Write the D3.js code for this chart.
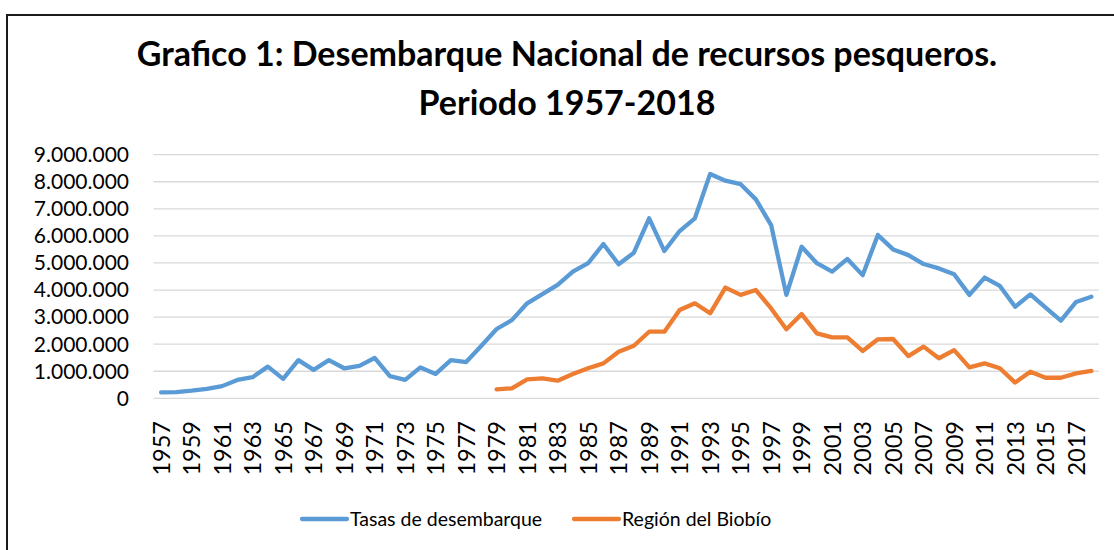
<!DOCTYPE html>
<html>
<head>
<meta charset="utf-8">
<script src="https://cdn.jsdelivr.net/npm/d3@7"></script>
<style>
    body { margin: 0; background: #fff; }
    svg { display: block; font-family: Lato, "Open Sans", sans-serif; }
</style>
</head>
<body>
<script>
// years on the x axis
var years = d3.range(1957, 2019);

// national landings (tonnes), one per year 1957-2018
var tasas = [
    220000, 230000, 280000, 350000, 450000, 680000, 780000, 1170000, 720000, 1410000,
    1050000, 1410000, 1110000, 1200000, 1490000, 820000, 680000, 1140000, 900000, 1410000,
    1340000, 1940000, 2560000, 2890000, 3510000, 3850000, 4190000, 4680000, 4990000, 5700000,
    4950000, 5380000, 6650000, 5440000, 6180000, 6650000, 8290000, 8040000, 7910000, 7350000,
    6400000, 3820000, 5600000, 4990000, 4680000, 5150000, 4550000, 6030000, 5500000, 5290000,
    4960000, 4800000, 4580000, 3820000, 4460000, 4150000, 3380000, 3840000, 3350000, 2870000,
    3560000, 3750000
];

// Biobío region landings, data starts in 1979
var biobioStart = 1979;
var biobio = [
    330000, 370000, 700000, 740000, 650000, 900000, 1110000, 1290000, 1720000, 1940000,
    2460000, 2460000, 3260000, 3510000, 3140000, 4090000, 3820000, 4000000, 3320000, 2550000,
    3110000, 2400000, 2250000, 2250000, 1750000, 2180000, 2190000, 1560000, 1910000, 1480000,
    1780000, 1140000, 1290000, 1110000, 580000, 980000, 760000, 760000, 920000, 1010000
];

var yTicks = [0, 1000000, 2000000, 3000000, 4000000, 5000000, 6000000, 7000000, 8000000, 9000000];

var seriesNames = ["Tasas de desembarque", "Región del Biobío"];
var colors = ["#5b9bd5", "#ed7d31"];

var titleLines = ["Grafico 1: Desembarque Nacional de recursos pesqueros.", "Periodo 1957-2018"];

window.onload = function() {
    drawChart();
};

function drawChart() {
    var width = 1114,
        height = 550;

    var svg = d3.select("body")
        .append("svg")
        .attr("width", width)
        .attr("height", height);

    //chart frame (right and bottom edges fall outside the picture)
    svg.append("rect")
        .attr("x", 7)
        .attr("y", 15)
        .attr("width", 1120)
        .attr("height", 560)
        .attr("fill", "#fff")
        .attr("stroke", "#1a1a1a")
        .attr("stroke-width", 2);

    //title
    svg.selectAll(".title")
        .data(titleLines)
        .enter()
        .append("text")
        .attr("class", "title")
        .attr("x", 567)
        .attr("y", function(d, i) { return 66 + i * 49; })
        .attr("text-anchor", "middle")
        .style("font-size", "34px")
        .style("font-weight", "bold")
        .attr("fill", "#000")
        .text(function(d) { return d; });

    var x = d3.scaleBand()
        .domain(years)
        .range([153.5, 1099]);

    var y = d3.scaleLinear()
        .domain([0, 9000000])
        .range([398.3, 154.7]);

    var es = d3.formatLocale({ decimal: ",", thousands: ".", grouping: [3], currency: ["$", ""] });
    var fmt = es.format(",d");

    //gridlines
    svg.selectAll(".grid")
        .data(yTicks)
        .enter()
        .append("line")
        .attr("class", "grid")
        .attr("x1", x.range()[0])
        .attr("x2", x.range()[1])
        .attr("y1", function(d) { return y(d); })
        .attr("y2", function(d) { return y(d); })
        .attr("stroke", "#d9d9d9")
        .attr("stroke-width", 1.3);

    //y labels
    svg.selectAll(".ylab")
        .data(yTicks)
        .enter()
        .append("text")
        .attr("class", "ylab")
        .attr("x", 129)
        .attr("y", function(d) { return y(d); })
        .attr("dy", "0.35em")
        .attr("text-anchor", "end")
        .style("font-size", "21px")
        .attr("fill", "#000")
        .text(function(d) { return fmt(d); });

    //x labels, every other year, rotated
    svg.selectAll(".xlab")
        .data(years.filter(function(d, i) { return i % 2 === 0; }))
        .enter()
        .append("text")
        .attr("class", "xlab")
        .attr("transform", function(d) {
            return "translate(" + (x(d) + x.bandwidth() / 2) + ",421) rotate(-90)";
        })
        .attr("dy", "0.36em")
        .attr("text-anchor", "end")
        .style("font-size", "23.5px")
        .attr("fill", "#000")
        .text(function(d) { return d; });

    //lines
    var line = d3.line()
        .defined(function(d) { return d.v != null; })
        .x(function(d) { return x(d.year) + x.bandwidth() / 2; })
        .y(function(d) { return y(d.v); });

    var series = [
        years.map(function(yr, i) { return { year: yr, v: tasas[i] }; }),
        biobio.map(function(v, i) { return { year: biobioStart + i, v: v }; })
    ];

    svg.selectAll(".series")
        .data(series)
        .enter()
        .append("path")
        .attr("class", "series")
        .attr("d", line)
        .attr("fill", "none")
        .attr("stroke", function(d, i) { return colors[i]; })
        .attr("stroke-width", 4.3)
        .attr("stroke-linejoin", "round")
        .attr("stroke-linecap", "round");

    //legend
    var legendX = [302, 574];
    var legend = svg.selectAll(".legend")
        .data(seriesNames)
        .enter()
        .append("g")
        .attr("class", "legend")
        .attr("transform", function(d, i) { return "translate(" + legendX[i] + ",519)"; });

    legend.append("line")
        .attr("x1", 0)
        .attr("x2", 45)
        .attr("stroke", function(d, i) { return colors[i]; })
        .attr("stroke-width", 4.3)
        .attr("stroke-linecap", "round");

    legend.append("text")
        .attr("x", 48)
        .attr("dy", "0.35em")
        .style("font-size", "19.5px")
        .attr("fill", "#000")
        .text(function(d) { return d; });
}
</script>
</body>
</html>
